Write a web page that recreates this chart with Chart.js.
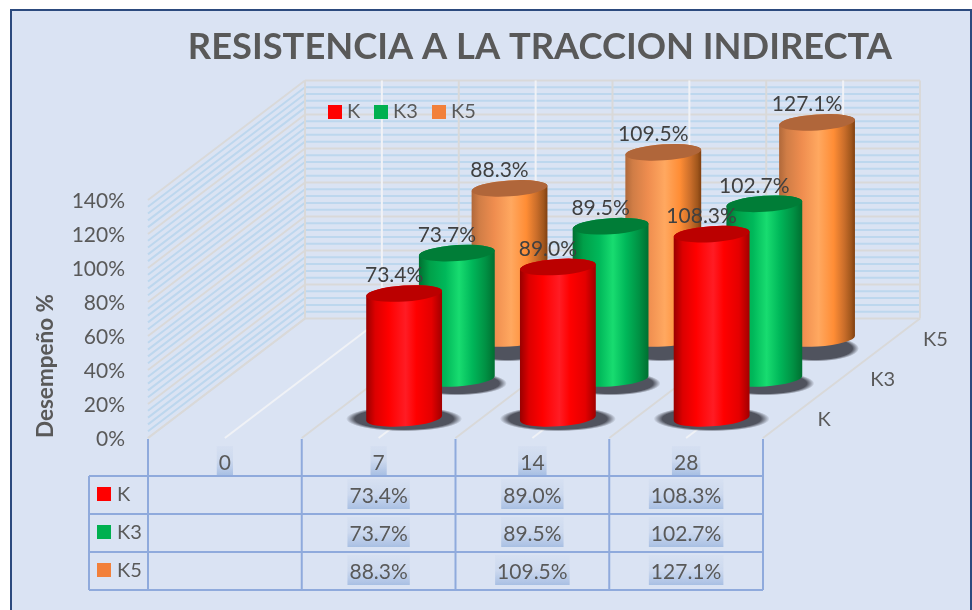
<!DOCTYPE html>
<html lang="es">
<head>
<meta charset="utf-8">
<title>Resistencia a la tracción indirecta</title>
<script src="https://cdn.jsdelivr.net/npm/chart.js@4"></script>
<style>
html,body{margin:0;padding:0;background:#fff;width:972px;height:610px;overflow:hidden}
#frame{position:absolute;left:10px;top:9px;width:958px;height:700px;background:#dae3f3;border:2px solid #2c4a7e}
canvas{position:absolute;left:0;top:0}
</style>
</head>
<body>
<div id="frame"></div>
<canvas id="c" width="972" height="610"></canvas>
<script>
const categories = ['0', '7', '14', '28'];
const seriesNames = ['K', 'K3', 'K5'];
const valuesK  = [null, 73.4, 89.0, 108.3];
const valuesK3 = [null, 73.7, 89.5, 102.7];
const valuesK5 = [null, 88.3, 109.5, 127.1];
const chartTitle = 'RESISTENCIA A LA TRACCION INDIRECTA';
const yAxisTitle = 'Desempeño %';

const FONT = 'Lato, "Open Sans", sans-serif';
const TEXT = '#595959';
const TABLE_LINE = '#8faadc';
const GRID = '#d9d9d9';
const MINOR = '#bdd7ee';
const WALL = {dx: 157, dy: -119.5};
const ROW = {dx: 52.7, dy: -39.9, x0: 25.5, y0: -19.7};
const RX = 38, RY = 8, TILT = -3.8 * Math.PI / 180;
const KEYS = ['#ff0000', '#00b050', '#f2803a'];
const STYLES = [
  {top: '#bb0000', stops: [[0,'#980000'],[.12,'#dc0000'],[.3,'#ff0000'],[.52,'#ff1c24'],[.66,'#ff0000'],[.86,'#e40000'],[1,'#a00000']],
   shadow: {rx: 58, ry: 12.5, dx: 0, dy: .5}},
  {top: '#007d37', stops: [[0,'#006f30'],[.14,'#00a049'],[.35,'#00b85a'],[.53,'#18dc70'],[.7,'#00b85a'],[.88,'#009043'],[1,'#006f30']],
   shadow: {rx: 50, ry: 12, dx: 0, dy: 5}},
  {top: '#b0663a', stops: [[0,'#b0683a'],[.1,'#d07d46'],[.3,'#ef8d4f'],[.52,'#ffa860'],[.72,'#ff8d35'],[.86,'#c96d2a'],[.95,'#a0561c'],[1,'#7f3f10']],
   shadow: {rx: 44, ry: 13, dx: -2, dy: 10}}
];

function line(ctx, x1, y1, x2, y2, color, w) {
  ctx.strokeStyle = color; ctx.lineWidth = w;
  ctx.beginPath(); ctx.moveTo(x1, y1); ctx.lineTo(x2, y2); ctx.stroke();
}

function highlight(ctx, cx, top, bottom, textWidth) {
  const g = ctx.createLinearGradient(0, top, 0, bottom);
  g.addColorStop(0, 'rgba(168,191,227,.08)');
  g.addColorStop(.5, 'rgba(168,191,227,.25)');
  g.addColorStop(1, '#a8bfe3');
  ctx.fillStyle = g;
  ctx.fillRect(cx - textWidth / 2 - 2, top, textWidth + 4, bottom - top);
}

function drawCylinder(ctx, cx, baseY, topY, style) {
  const s = style.shadow;
  ctx.save();
  ctx.translate(cx + s.dx, baseY + s.dy);
  ctx.scale(1, s.ry / s.rx);
  const rg = ctx.createRadialGradient(0, 0, 0, 0, 0, s.rx);
  rg.addColorStop(0, '#50535e');
  rg.addColorStop(.85, '#50535e');
  rg.addColorStop(1, 'rgba(80,83,94,0)');
  ctx.fillStyle = rg;
  ctx.beginPath(); ctx.arc(0, 0, s.rx, 0, Math.PI * 2); ctx.fill();
  ctx.restore();

  const g = ctx.createLinearGradient(cx - RX, 0, cx + RX, 0);
  style.stops.forEach(p => g.addColorStop(p[0], p[1]));
  const ex = RX * Math.cos(TILT), ey = RX * Math.sin(TILT);
  ctx.fillStyle = g;
  ctx.beginPath();
  ctx.moveTo(cx - ex, topY - ey);
  ctx.lineTo(cx - ex, baseY - ey);
  ctx.ellipse(cx, baseY, RX, RY, TILT, Math.PI, 0, true);
  ctx.lineTo(cx + ex, topY + ey);
  ctx.ellipse(cx, topY, RX, RY, TILT, 0, Math.PI, true);
  ctx.closePath();
  ctx.fill();
  ctx.fillStyle = style.top;
  ctx.beginPath();
  ctx.ellipse(cx, topY, RX, RY, TILT, 0, Math.PI * 2);
  ctx.fill();
}

const scene = {
  id: 'scene',
  beforeDraw(chart) {
    const {ctx, scales: {x}} = chart;
    ctx.save();
    ctx.font = '21px ' + FONT;
    categories.forEach((c, i) => {
      highlight(ctx, x.getPixelForTick(i), 446, 475, ctx.measureText(c).width);
    });
    ctx.restore();
  },
  beforeDatasetsDraw(chart) {
    const {ctx, chartArea: a, scales: {x, y}} = chart;
    const bx = WALL.dx, by = WALL.dy;
    ctx.save();
    for (let v = 0; v <= 140; v += 4) {
      if (v % 20 === 0) continue;
      const py = y.getPixelForValue(v);
      line(ctx, a.left, py, a.left + bx, py + by, MINOR, 2);
      line(ctx, a.left + bx, py + by, a.right + bx, py + by, MINOR, 2);
    }
    y.ticks.forEach(t => {
      const py = y.getPixelForValue(t.value);
      line(ctx, a.left, py, a.left + bx, py + by, GRID, 2);
      line(ctx, a.left + bx, py + by, a.right + bx, py + by, GRID, 2);
    });
    const step = (a.right - a.left) / categories.length;
    for (let i = 0; i <= categories.length; i++) {
      const px = a.left + step * i;
      line(ctx, px, a.bottom, px + bx, a.bottom + by, GRID, 2);
      line(ctx, px + bx, a.bottom + by, px + bx, a.top + by, GRID, 2);
    }
    categories.forEach((c, i) => {
      const px = x.getPixelForTick(i);
      line(ctx, px, a.bottom, px + bx, a.bottom + by, '#f0f2f6', 2);
      line(ctx, px + bx, a.bottom + by, px + bx, a.top + by, '#f0f2f6', 2);
    });
    ctx.textBaseline = 'middle';
    ctx.textAlign = 'left';
    ctx.font = '20px ' + FONT;
    const legendKeys = [328, 374, 432];
    chart.data.datasets.forEach((d, i) => {
      ctx.fillStyle = KEYS[i];
      ctx.fillRect(legendKeys[i], 105, 14, 14);
      ctx.fillStyle = TEXT;
      ctx.fillText(d.label, legendKeys[i] + 19, 112);
    });
    ctx.restore();
  },
  afterDatasetsDraw(chart) {
    const {ctx, chartArea: a, scales: {x}} = chart;
    const dsets = chart.data.datasets;
    ctx.save();
    for (let d = dsets.length - 1; d >= 0; d--) {
      const sx = ROW.x0 + d * ROW.dx, sy = ROW.y0 + d * ROW.dy;
      chart.getDatasetMeta(d).data.forEach((el, i) => {
        if (dsets[d].data[i] == null) return;
        drawCylinder(ctx, el.x + sx, el.base + sy, el.y + sy, STYLES[d]);
      });
    }
    ctx.textAlign = 'center';
    ctx.textBaseline = 'middle';
    ctx.font = '21px ' + FONT;
    ctx.fillStyle = '#404040';
    for (let d = dsets.length - 1; d >= 0; d--) {
      const sx = ROW.x0 + d * ROW.dx, sy = ROW.y0 + d * ROW.dy;
      chart.getDatasetMeta(d).data.forEach((el, i) => {
        const v = dsets[d].data[i];
        if (v == null) return;
        ctx.fillText(v.toFixed(1) + '%', el.x + sx - 10, el.y + sy - 18);
      });
    }
    ctx.font = '20px ' + FONT;
    ctx.fillStyle = TEXT;
    ctx.textAlign = 'left';
    seriesNames.forEach((n, d) => {
      ctx.fillText(n, a.right + 54.5 + d * ROW.dx, a.bottom + ROW.y0 + d * ROW.dy + 1);
    });
    const rows = [476, 514, 552, 590];
    const step = (a.right - a.left) / categories.length;
    for (let i = 0; i <= categories.length; i++) {
      const px = a.left + step * i;
      line(ctx, px, a.bottom + 1, px, rows[3], TABLE_LINE, 2);
    }
    rows.forEach(r => line(ctx, 89, r, a.right, r, TABLE_LINE, 2));
    line(ctx, 89, rows[0], 89, rows[3], TABLE_LINE, 2);
    dsets.forEach((ds, d) => {
      const top = rows[d], mid = top + 20;
      ctx.fillStyle = KEYS[d];
      ctx.fillRect(97, top + 11, 14, 14);
      ctx.textAlign = 'left';
      ctx.font = '20px ' + FONT;
      ctx.fillStyle = TEXT;
      ctx.fillText(ds.label, 117, mid - 1);
      ctx.textAlign = 'center';
      ctx.font = '21px ' + FONT;
      ds.data.forEach((v, i) => {
        if (v == null) return;
        const s = v.toFixed(1) + '%', px = x.getPixelForTick(i);
        highlight(ctx, px, top + 3, top + 33, ctx.measureText(s).width);
        ctx.fillStyle = TEXT;
        ctx.fillText(s, px, mid);
      });
    });
    ctx.restore();
  }
};

new Chart(document.getElementById('c'), {
  type: 'bar',
  plugins: [scene],
  data: {
    labels: categories,
    datasets: [
      {label: seriesNames[0], data: valuesK, backgroundColor: 'transparent'},
      {label: seriesNames[1], data: valuesK3, backgroundColor: 'transparent'},
      {label: seriesNames[2], data: valuesK5, backgroundColor: 'transparent'}
    ]
  },
  options: {
    responsive: false,
    animation: false,
    devicePixelRatio: 1,
    layout: {padding: {left: 0, right: 80, top: 0, bottom: 0}},
    datasets: {bar: {grouped: false, barThickness: 76, borderWidth: 0}},
    plugins: {
      legend: {display: false},
      tooltip: {enabled: false},
      title: {
        display: true, text: chartTitle, color: TEXT, align: 'end',
        font: {family: FONT, size: 36.3, weight: 'bold', lineHeight: 1.2},
        padding: {top: 26, bottom: 130.4}
      }
    },
    scales: {
      x: {
        offset: true,
        grid: {display: false, drawTicks: false},
        border: {display: false},
        ticks: {color: TEXT, font: {family: FONT, size: 21}, padding: 13, maxRotation: 0},
        afterFit(s) { s.height = 172; }
      },
      y: {
        min: 0, max: 140,
        grid: {display: false, drawTicks: false},
        border: {display: false},
        ticks: {stepSize: 20, color: TEXT, font: {family: FONT, size: 21}, padding: 23, labelOffset: 1.5, callback: v => v + '%'},
        title: {
          display: true, text: yAxisTitle, color: TEXT, align: 'start',
          font: {family: FONT, size: 22.5, weight: 'bold', lineHeight: 1.2},
          padding: {top: 32, bottom: 0}
        },
        afterFit(s) { s.width = 148; }
      },
      rightGap: {
        position: 'right',
        display: true,
        grid: {display: false, drawTicks: false},
        border: {display: false},
        ticks: {display: false},
        afterFit(s) { s.width = 129; }
      }
    }
  }
});
</script>
</body>
</html>
